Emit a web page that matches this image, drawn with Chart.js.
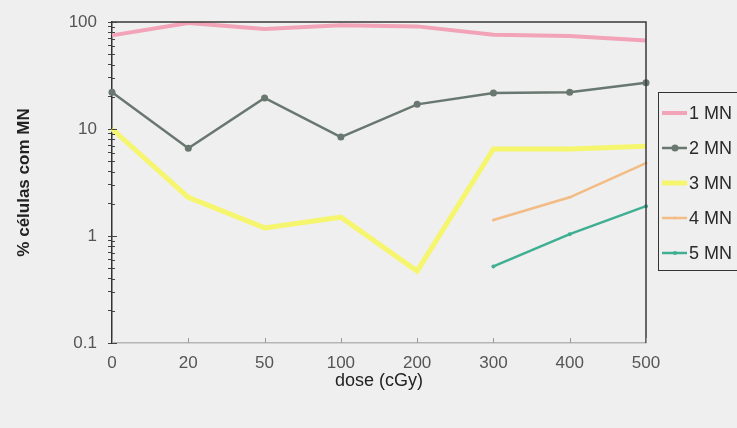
<!DOCTYPE html>
<html>
<head>
<meta charset="utf-8">
<script src="https://cdn.jsdelivr.net/npm/chart.js@4/dist/chart.umd.min.js"></script>
<style>
  html, body { margin: 0; padding: 0; background: #efefef; }
  #chart { display: block; }
</style>
</head>
<body>
<canvas id="chart" width="737" height="428"></canvas>
<script>
"use strict";

// dose categories and % of cells with 1..5 micronuclei
const doses = ['0', '20', '50', '100', '200', '300', '400', '500'];
const mn1 = [75, 98, 86, 93, 91, 76, 74, 67];
const mn2 = [22, 6.6, 19.5, 8.4, 17, 21.7, 22, 27];
const mn3 = [10, 2.3, 1.19, 1.5, 0.47, 6.5, 6.5, 6.9];
const mn4 = [null, null, null, null, null, 1.41, 2.3, 4.8];
const mn5 = [null, null, null, null, null, 0.52, 1.04, 1.9];
const yTicks = [0.1, 1, 10, 100];

// log axis: labelled decades plus unlabelled minor ticks
function logTicks() {
    const out = [];
    for (let i = 0; i < yTicks.length - 1; i++) {
        for (let k = 1; k < 10; k++) {
            out.push({ value: +(yTicks[i] * k).toPrecision(3), major: k === 1 });
        }
    }
    out.push({ value: yTicks[yTicks.length - 1], major: true });
    return out;
}

// frame lines on top/right and inner tick marks
const frame = {
    id: 'frame',
    afterDraw(chart) {
        const { ctx, chartArea: a, scales } = chart;
        ctx.save();
        ctx.strokeStyle = '#3a3a3a';
        ctx.lineWidth = 1.5;
        ctx.beginPath();
        ctx.moveTo(a.left, a.top);
        ctx.lineTo(a.right, a.top);
        ctx.lineTo(a.right, a.bottom);
        ctx.stroke();

        ctx.lineWidth = 1;
        ctx.strokeStyle = '#444';
        scales.y.ticks.forEach(t => {
            const y = Math.round(scales.y.getPixelForValue(t.value)) + 0.5;
            ctx.beginPath();
            ctx.moveTo(a.left, y);
            ctx.lineTo(a.left + (t.major ? 5 : 3), y);
            ctx.stroke();
        });
        ctx.strokeStyle = '#999';
        doses.forEach((d, i) => {
            const x = Math.round(scales.x.getPixelForValue(i)) + 0.5;
            ctx.beginPath();
            ctx.moveTo(x, a.bottom);
            ctx.lineTo(x, a.bottom - 5);
            ctx.stroke();
        });
        ctx.restore();
    }
};

// boxed legend at the right, partly cut by the canvas edge
const legendBox = {
    id: 'legendBox',
    afterDraw(chart) {
        const ctx = chart.ctx;
        const left = 658, top = 92, bottom = 270;
        ctx.save();
        ctx.strokeStyle = '#333';
        ctx.lineWidth = 1;
        ctx.strokeRect(left + 0.5, top + 0.5, 100, bottom - top);
        ctx.font = '18px "Liberation Sans", Arial, sans-serif';
        ctx.textBaseline = 'middle';
        chart.data.datasets.forEach((ds, i) => {
            const y = 113 + i * 35;
            ctx.strokeStyle = ds.borderColor;
            ctx.lineWidth = ds.borderWidth;
            ctx.beginPath();
            ctx.moveTo(left + 4, y);
            ctx.lineTo(left + 29, y);
            ctx.stroke();
            if (ds.pointRadius) {
                ctx.fillStyle = ds.pointBackgroundColor;
                ctx.beginPath();
                ctx.arc(left + 17, y, ds.pointRadius, 0, Math.PI * 2);
                ctx.fill();
            }
            ctx.fillStyle = '#2a2a2a';
            ctx.fillText(ds.label, left + 31, y + 1);
        });
        ctx.restore();
    }
};

function series(label, data, color, width, radius) {
    return {
        label: label,
        data: data,
        borderColor: color,
        backgroundColor: color,
        pointBackgroundColor: color,
        borderWidth: width,
        pointRadius: radius,
        pointBorderWidth: 0,
        tension: 0,
        spanGaps: false
    };
}

Chart.defaults.font.family = '"Liberation Sans", Arial, sans-serif';

new Chart(document.getElementById('chart'), {
    type: 'line',
    data: {
        labels: doses,
        datasets: [
            series('1 MN', mn1, '#f2a3b8', 4, 0),
            series('2 MN', mn2, '#68776f', 2.5, 3.5),
            series('3 MN', mn3, '#f6f56e', 5, 0),
            series('4 MN', mn4, '#f2bc84', 2.5, 1.5),
            series('5 MN', mn5, '#3faf92', 2.5, 2)
        ]
    },
    options: {
        responsive: false,
        animation: false,
        layout: { padding: { left: 0, top: 22, right: 91, bottom: 0 } },
        plugins: { legend: { display: false }, tooltip: { enabled: false } },
        scales: {
            x: {
                type: 'category',
                offset: false,
                grid: { drawOnChartArea: false, drawTicks: false },
                border: { color: '#b5b5b5', width: 1.5 },
                ticks: { color: '#555', font: { size: 17 }, padding: 10, maxRotation: 0 },
                title: {
                    display: true,
                    text: 'dose (cGy)',
                    color: '#222',
                    font: { size: 18 },
                    padding: { top: 0, bottom: 36 }
                },
                afterFit(scale) { scale.width = scale.width; scale.height = 85; }
            },
            y: {
                type: 'logarithmic',
                min: 0.1,
                max: 100,
                afterBuildTicks(scale) { scale.ticks = logTicks(); },
                grid: { drawOnChartArea: false, tickLength: 4, color: '#444' },
                border: { color: '#333', width: 1.5 },
                ticks: {
                    autoSkip: false,
                    color: '#555',
                    font: { size: 17 },
                    padding: 11,
                    callback: (v) => yTicks.includes(v) ? String(v) : ''
                },
                title: {
                    display: true,
                    text: '% células com MN',
                    color: '#222',
                    font: { size: 17, weight: 'bold' },
                    padding: { top: 14, bottom: 0 }
                },
                afterFit(scale) { scale.width = 112; }
            }
        }
    },
    plugins: [frame, legendBox]
});
</script>
</body>
</html>
